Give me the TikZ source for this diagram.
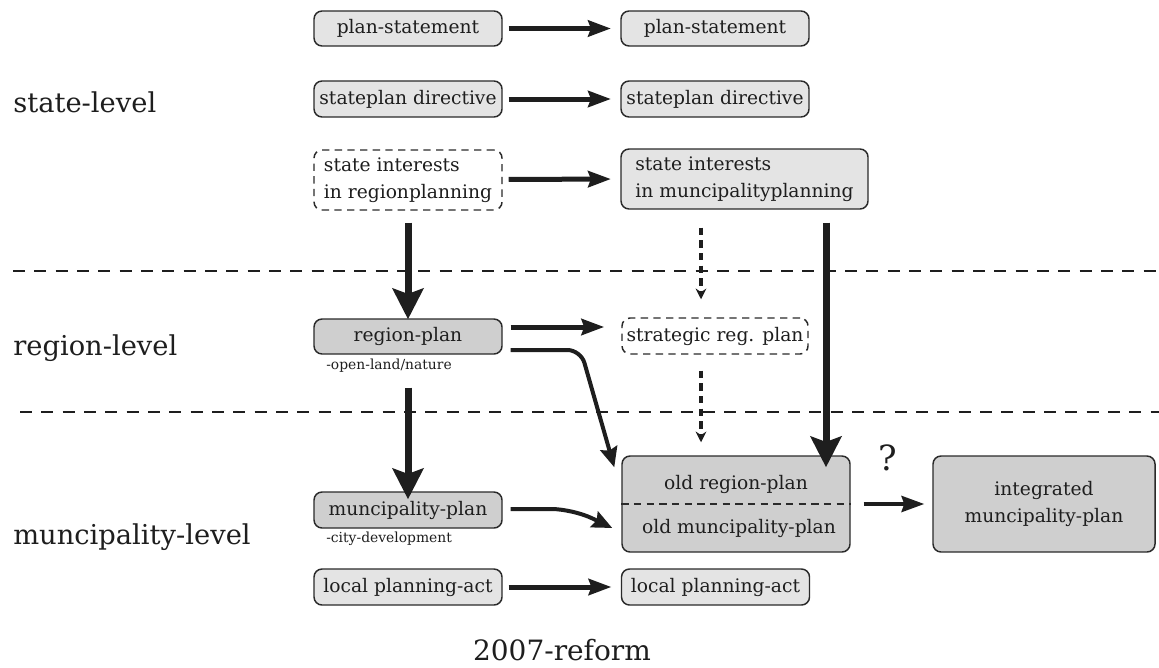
\documentclass[tikz,border=0pt]{standalone}
\usepackage{fontspec}
\setmainfont{DejaVu Serif}
\usetikzlibrary{arrows.meta,calc}
\definecolor{lightfill}{HTML}{E4E4E4}
\definecolor{darkfill}{HTML}{CFCFCF}
\definecolor{edge}{HTML}{2A2A2A}
\definecolor{ink}{HTML}{1E1E1E}
\begin{document}
\begin{tikzpicture}[x=0.75pt,y=-0.75pt,
  box/.style={draw=edge,line width=1.1pt,rounded corners=6pt,fill=lightfill,text=ink,
    font=\fontsize{14}{20}\selectfont,inner sep=0pt,align=center},
  dkbox/.style={box,fill=darkfill},
  dbox/.style={box,fill=white,dash pattern=on 5.5pt off 4pt},
  txt/.style={text=ink,font=\fontsize{14}{20}\selectfont,inner sep=0pt},
  lvl/.style={text=ink,font=\fontsize{20.5}{26}\selectfont,inner sep=0pt,anchor=base west},
  small/.style={text=ink,font=\fontsize{10.4}{12}\selectfont,inner sep=0pt,anchor=west},
  harrow/.style={draw=ink,line width=3.75pt,-{Stealth[length=17pt,width=12pt,inset=2pt]}},
  varrow/.style={draw=ink,line width=5.25pt,-{Stealth[length=23pt,width=23pt,inset=4pt]}},
  carrow/.style={draw=ink,line width=3pt,-{Stealth[length=15pt,width=13pt,inset=2pt]}},
  darrow/.style={draw=ink,line width=2.4pt,dash pattern=on 5.5pt off 4pt,-{Stealth[length=8pt,width=8pt]}},
  sep/.style={draw=ink,line width=1.5pt,dash pattern=on 9pt off 7pt}]
\useasboundingbox (0,0) rectangle (1159,667);

% level labels
\node[lvl] (L1) at (13,113) {state-level};
\node[lvl] (L2) at (13,355) {region-level};
\node[lvl] (L3) at (13,544) {muncipality-level};

% separators
\draw[sep] (13,271) -- (1159,271);
\draw[sep] (20,412) -- (1159,412);

% state level
\node[box,minimum width=141pt,minimum height=26.25pt] (A1) at (408,28.5) {plan-statement};
\node[box,minimum width=141pt,minimum height=26.25pt] (B1) at (715,28.5) {plan-statement};
\node[box,minimum width=141pt,minimum height=27pt] (A2) at (408,99) {stateplan directive};
\node[box,minimum width=141pt,minimum height=27pt] (B2) at (715,99) {stateplan directive};
\node[dbox,minimum width=141pt,minimum height=45pt,align=left] (A3) at (408,180) {state interests\\in regionplanning};
\node[box,minimum width=185.25pt,minimum height=45pt,align=left] (B3) at (744.5,179) {state interests\\in muncipalityplanning};

% region level
\node[dkbox,minimum width=141pt,minimum height=26.25pt] (RP) at (408,336.5) {region-plan};
\node[small] (RPn) at (326,366) {-open-land/nature};
\node[dbox,minimum width=139.5pt,minimum height=27pt] (SR) at (715,336) {strategic reg. plan};

% municipality level
\node[dkbox,minimum width=141pt,minimum height=27pt] (MP) at (408,510) {muncipality-plan};
\node[small] (MPn) at (326,539) {-city-development};
\node[box,minimum width=141pt,minimum height=27pt] (LA) at (408,587) {local planning-act};
\node[box,minimum width=141pt,minimum height=27pt] (LB) at (715.5,587) {local planning-act};

\node[dkbox,minimum width=171pt,minimum height=72pt] (OLD) at (736,504) {};
\draw[draw=edge,line width=1pt,dash pattern=on 5.5pt off 4pt] (OLD.west) -- (OLD.east);
\node[txt] (OLDr) at (736,484) {old region-plan};
\node[txt] (OLDm) at (739,528) {old muncipality-plan};

\node[dkbox,minimum width=166.5pt,minimum height=72pt] (INT) at (1044,504) {integrated\\muncipality-plan};
\node[text=ink,font=\fontsize{26}{30}\selectfont,inner sep=0pt] (Q) at (888,458) {?};

\node[text=ink,font=\fontsize{21}{26}\selectfont,inner sep=0pt,anchor=base] (REF) at (562,660) {2007-reform};

% helper x positions
\coordinate (dx) at (701,0);
\coordinate (vx) at (826,0);

% arrows
\draw[harrow,shorten <=4.5pt,shorten >=7pt] (A1.east) -- (B1.west);
\draw[harrow,shorten <=4.5pt,shorten >=7pt] (A2.east) -- (B2.west);
\draw[harrow,shorten <=4.5pt,shorten >=7pt] ($(A3.east)+(0,-0.5)$) -- (B3.west);
\draw[harrow,shorten <=4.5pt,shorten >=7pt] (LA.east) -- (LB.west);
\draw[harrow,shorten <=6pt,shorten >=12.75pt] ($(RP.east)+(0,-9.5)$) -- ($(SR.west)+(0,-9)$);

\draw[varrow,shorten <=9pt,shorten >=-0.75pt] (A3.south) -- (RP.north);
\draw[varrow,shorten <=24.75pt,shorten >=-6pt] (RP.south) -- (MP.north);
\draw[varrow,shorten <=9.75pt,shorten >=-9pt] (B3.south -| vx) -- (OLD.north -| vx);

\draw[darrow,shorten <=13.5pt,shorten >=13.5pt] (B3.south -| dx) -- (SR.north -| dx);
\draw[darrow,shorten <=12pt,shorten >=9.75pt] (SR.south -| dx) -- (OLD.north -| dx);

\draw[carrow,rounded corners=10pt] ($(RP.east)+(8,13.5)$) -- ++(70,0) -- ($(OLD.north west)+(-7,12)$);
\draw[carrow,rounded corners=16pt] ($(MP.east)+(8,-1)$) -- ++(62,0) -- ($(OLD.west)+(-9,24)$);

\draw[harrow,line width=3pt,shorten <=9.75pt,shorten >=6pt] (OLD.east) -- (INT.west);
\end{tikzpicture}
\end{document}
